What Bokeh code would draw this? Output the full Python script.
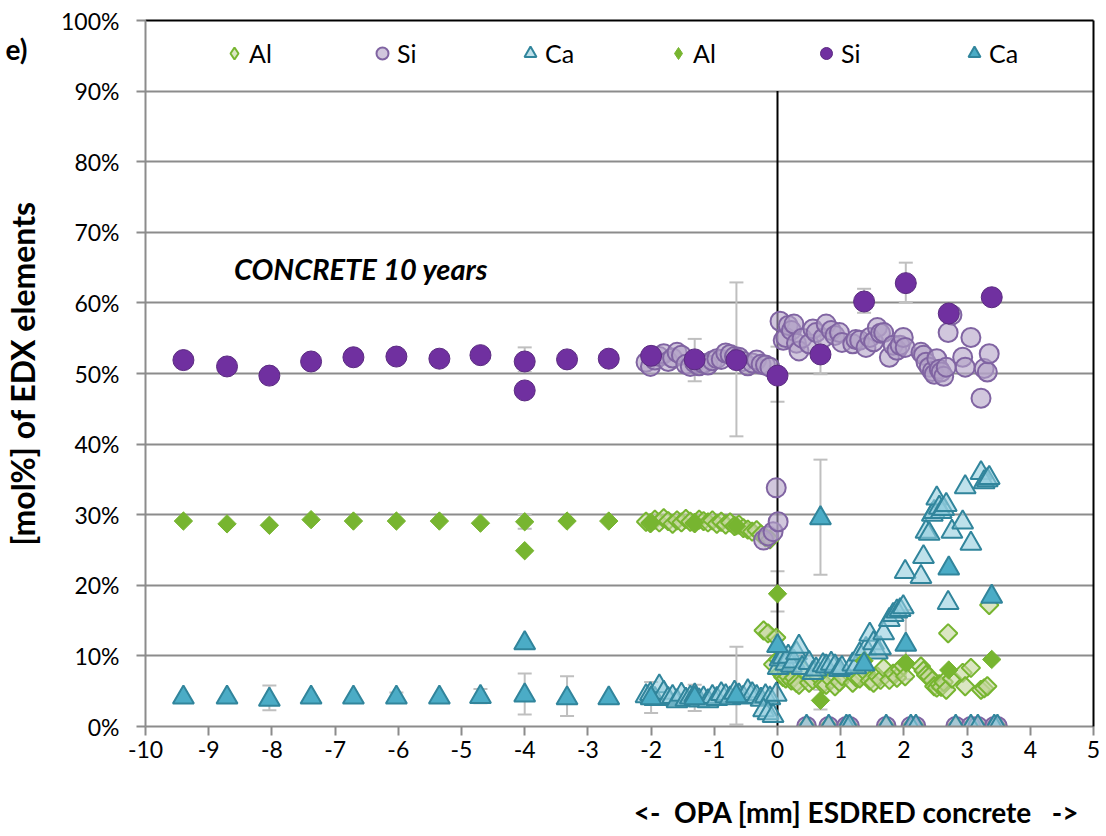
import math
from bokeh.plotting import figure
from bokeh.models import (ColumnDataSource, LinearAxis, FixedTicker, Legend, LegendItem,
                          Label, Whisker, TeeHead, PrintfTickFormatter)
from bokeh.embed import file_html
from bokeh.resources import INLINE

# ---------------- data ----------------
# mean values (filled markers)
mean_x = [-9.40, -8.71, -8.04, -7.38, -6.71, -6.03, -5.35, -4.70, -4.00, -4.00, -3.33,
          -2.67, -2.00, -1.31, -0.65, 0.00, 0.68, 1.37, 2.03, 2.71, 3.39]
mean_al = [29.1, 28.7, 28.5, 29.3, 29.1, 29.1, 29.1, 28.8, 29.0, 24.9, 29.1,
           29.1, 28.9, 28.9, 28.4, 18.8, 3.7, 9.3, 9.0, 8.0, 9.5]
mean_si = [51.9, 51.0, 49.7, 51.7, 52.3, 52.4, 52.1, 52.6, 51.7, 47.6, 52.0,
           52.1, 52.5, 52.0, 51.9, 49.7, 52.7, 60.2, 62.8, 58.5, 60.8]
mean_ca = [4.1, 4.1, 3.8, 4.1, 4.1, 4.1, 4.1, 4.2, 4.4, 11.8, 4.0,
           4.0, 4.0, 4.0, 4.3, 11.4, 29.5, 8.8, 11.6, 22.4, 18.4]

# error bars of the means
si_err_x = [-4.00, -2.00, -1.31, -0.65, 0.00, 0.68, 1.37, 2.03, 2.71]
si_err_lo = [50.2, 51.4, 48.9, 41.1, 46.0, 49.9, 58.6, 60.1, 57.6]
si_err_hi = [53.7, 53.6, 54.9, 62.9, 53.8, 55.3, 62.0, 65.7, 59.4]
al_err_x = [-4.00, 0.00, 0.68]
al_err_lo = [28.0, 16.3, 2.4]
al_err_hi = [30.0, 22.0, 5.2]
ca_err_x = [-8.04, -6.03, -4.70, -4.00, -3.33, -2.00, -1.31, -0.65, 0.68, 2.03]
ca_err_lo = [2.3, 3.4, 3.3, 1.7, 1.5, 1.9, 2.2, 0.3, 21.5, 6.7]
ca_err_hi = [5.8, 4.8, 5.3, 7.5, 7.1, 6.3, 5.9, 11.3, 37.8, 16.5]

# line-scan points (open markers): OPA side
opa_x = [-2.08, -2.01, -1.94, -1.87, -1.80, -1.73, -1.66, -1.59, -1.52, -1.45, -1.38, -1.31,
         -1.24, -1.17, -1.10, -1.03, -0.96, -0.89, -0.82, -0.75, -0.68, -0.61, -0.54, -0.47,
         -0.40, -0.33, -0.26, -0.19, -0.12]
opa_al = [29.0, 28.8, 29.3, 28.9, 29.5, 29.1, 28.7, 29.2, 28.9, 29.4, 29.0, 28.8,
          29.3, 29.1, 28.9, 29.2, 28.7, 29.0, 28.6, 28.9, 28.4, 28.6, 28.1, 27.9,
          27.6, 27.8, 27.2, 26.8, 26.5]
opa_si = [51.6, 51.0, 51.9, 52.4, 52.8, 51.7, 52.2, 53.0, 52.6, 51.3, 51.0, 51.5,
          51.1, 51.4, 51.2, 51.8, 52.1, 52.0, 52.9, 52.7, 52.4, 52.3, 51.7, 51.1,
          51.5, 51.9, 51.3, 51.2, 50.9]
opa_ca = [4.3, 4.6, 3.9, 5.7, 4.8, 3.9, 4.2, 3.6, 4.5, 3.8, 4.1, 4.4,
          3.7, 4.0, 3.6, 4.2, 3.9, 4.6, 4.3, 4.0, 4.8, 4.4, 4.1, 5.0,
          4.6, 4.2, 3.8, 4.3, 4.0]

# interface
int_x = [-0.22, -0.15, -0.07, -0.02, 0.01]
int_al = [13.6, 13.2, 8.8, 12.6, 9.5]
int_si = [26.4, 27.0, 27.6, 33.8, 29.0]
int_ca = [2.3, 1.9, 1.5, 4.5, 8.3]

# concrete side
con_x = [0.04, 0.09, 0.13, 0.17, 0.22, 0.26, 0.30, 0.34, 0.39, 0.50, 0.56, 0.61, 0.72, 0.77,
         0.85, 0.91, 0.98, 1.02, 1.19, 1.24, 1.30, 1.40, 1.46, 1.52, 1.58, 1.63, 1.68, 1.77,
         1.83, 1.89, 1.94, 1.99, 2.02, 2.27, 2.31, 2.35, 2.40, 2.45, 2.48, 2.52, 2.56, 2.59,
         2.63, 2.67, 2.70, 2.76, 2.93, 2.97, 3.06, 3.22, 3.27, 3.32, 3.35]
con_si = [57.4, 54.7, 55.1, 56.8, 56.1, 57.0, 54.3, 53.2, 55.0, 54.2, 56.3, 55.8, 55.0, 57.0,
          56.1, 55.4, 55.8, 54.4, 54.2, 54.8, 54.7, 53.7, 55.1, 54.5, 56.5, 55.7, 55.8, 52.3,
          54.0, 53.3, 54.0, 55.1, 53.7, 53.0, 52.6, 51.6, 50.9, 50.3, 49.9, 52.1, 50.6, 50.2,
          49.6, 50.9, 55.8, 58.3, 52.3, 50.9, 55.1, 46.5, 50.7, 50.2, 52.8]
con_al = [7.6, 7.0, 6.8, 7.1, 6.5, 6.9, 6.2, 5.9, 8.1, 6.2, 6.6, 7.4, 6.0, 5.9,
          6.6, 5.7, 6.3, 7.1, 6.2, 7.0, 6.8, 7.6, 6.5, 6.2, 7.1, 6.6, 8.3, 6.6,
          7.5, 6.9, 8.1, 8.6, 7.1, 8.5, 7.9, 7.3, 7.1, 6.5, 5.7, 5.5, 6.0, 5.6,
          6.3, 5.2, 13.2, 6.8, 7.6, 5.7, 8.3, 5.2, 5.4, 5.7, 17.2]
con_ca = [9.5, 9.8, 8.9, 9.9, 8.6, 9.2, 10.4, 11.3, 8.3, 9.0, 7.6, 8.1, 8.7, 8.5,
          8.9, 8.5, 8.0, 8.3, 8.8, 8.4, 10.2, 11.0, 13.0, 11.8, 10.5, 11.1, 13.2, 15.1,
          15.8, 16.3, 16.5, 16.9, 21.9, 21.2, 24.0, 27.6, 27.3, 30.0, 30.4, 32.3, 31.0, 30.4,
          30.8, 31.4, 17.5, 27.6, 28.9, 33.9, 25.9, 35.9, 34.6, 34.9, 35.2]

# points with no signal (0 %)
zero_x = [0.46, 0.81, 1.09, 1.14, 1.72, 2.11, 2.19, 2.82, 3.06, 3.17, 3.43, 3.48]
zero_v = [0.0, 0.0, 0.0, 0.0, 0.0, 0.0, 0.0, 0.0, 0.0, 0.0, 0.0, 0.0]

x_ticks = [-10, -9, -8, -7, -6, -5, -4, -3, -2, -1, 0, 1, 2, 3, 4, 5]
y_ticks = [0, 10, 20, 30, 40, 50, 60, 70, 80, 90, 100]
interface_x = 0
interface_top = 90

panel_tag = "e)"
panel_tag_y = 96
y_title = "[mol%] of EDX elements"
x_title = "<-\u00a0 OPA [mm] ESDRED concrete \u00a0\u00a0->"
x_title_center = 1.25
note_text = "CONCRETE 10 years"
note_x, note_y = -8.60, 64.9

scan_x = opa_x + int_x + con_x + zero_x
scan_al = opa_al + int_al + con_al + zero_v
scan_si = opa_si + int_si + con_si + zero_v
scan_ca = opa_ca + int_ca + con_ca + zero_v

# ---------------- styles ----------------
FONT = "Lato"
GRID = "#8c8c8c"
ERR = "#bfbfbf"
AL_DARK = "#77b530"
AL_OPEN_FILL = "#c3d69b"
SI_DARK = "#7030a0"
SI_LINE = "#8064a2"
SI_OPEN_FILL = "#b3a2c7"
CA_FILL = "#4bacc6"
CA_LINE = "#31859c"
CA_OPEN_FILL = "#93cddd"

p = figure(width=1106, height=836, x_range=(-10, 5), y_range=(0, 100),
           output_backend="svg", toolbar_location=None,
           min_border_left=143, min_border_right=13, min_border_top=20, min_border_bottom=110)
p.background_fill_color = "white"
p.border_fill_color = "white"
p.outline_line_color = None

# axes
p.xaxis.ticker = FixedTicker(ticks=x_ticks)
p.xaxis.formatter = PrintfTickFormatter(format="%d")
p.yaxis.ticker = FixedTicker(ticks=y_ticks)
p.yaxis.formatter = PrintfTickFormatter(format="%d%%")
for ax in (p.xaxis[0], p.yaxis[0]):
    ax.axis_line_color = GRID
    ax.axis_line_width = 2
    ax.major_tick_line_color = GRID
    ax.major_tick_line_width = 2
    ax.major_tick_in = 0
    ax.major_tick_out = 9
    ax.minor_tick_line_color = None
    ax.major_label_text_font = FONT
    ax.major_label_text_font_size = "23px"
    ax.major_label_text_color = "black"
p.yaxis.major_label_standoff = 17
p.xaxis.major_label_standoff = 5
p.yaxis.axis_label = y_title
p.yaxis.axis_label_text_font = FONT
p.yaxis.axis_label_text_font_style = "bold"
p.yaxis.axis_label_text_font_size = "32px"
p.yaxis.axis_label_text_color = "black"
p.yaxis.axis_label_standoff = 16

for side in ("right", "above"):
    ax = LinearAxis(ticker=FixedTicker(ticks=[]), axis_line_color="black", axis_line_width=2,
                    major_tick_line_color=None, minor_tick_line_color=None,
                    major_label_text_font_size="0px", major_label_standoff=0,
                    major_tick_out=0, major_tick_in=0)
    p.add_layout(ax, side)

# panel tag "e)" as an outer label-only axis on the left
tag_axis = LinearAxis(ticker=FixedTicker(ticks=[panel_tag_y]),
                      major_label_overrides={panel_tag_y: panel_tag},
                      axis_line_color=None, major_tick_line_color=None, minor_tick_line_color=None,
                      major_tick_out=0, major_tick_in=0, major_label_standoff=-27,
                      major_label_text_font=FONT, major_label_text_font_style="bold",
                      major_label_text_font_size="28px", major_label_text_color="black")
p.add_layout(tag_axis, "left")

# x title as an outer label-only axis below
xt_axis = LinearAxis(ticker=FixedTicker(ticks=[x_title_center]),
                     major_label_overrides={x_title_center: x_title},
                     axis_line_color=None, major_tick_line_color=None, minor_tick_line_color=None,
                     major_tick_out=0, major_tick_in=0, major_label_standoff=34,
                     major_label_text_font=FONT, major_label_text_font_style="bold",
                     major_label_text_font_size="28px", major_label_text_color="black")
p.add_layout(xt_axis, "below")

p.xgrid.visible = False
p.ygrid.ticker = FixedTicker(ticks=y_ticks[1:-1])
p.ygrid.grid_line_color = GRID
p.ygrid.grid_line_width = 2

# error bars
def add_err(xs, lo, hi):
    src = ColumnDataSource(dict(x=xs, lo=lo, hi=hi))
    w = Whisker(source=src, base="x", lower="lo", upper="hi", line_color=ERR, line_width=2,
                upper_head=TeeHead(size=14, line_color=ERR, line_width=2),
                lower_head=TeeHead(size=14, line_color=ERR, line_width=2))
    p.add_layout(w)

add_err(si_err_x, si_err_lo, si_err_hi)
add_err(al_err_x, al_err_lo, al_err_hi)
add_err(ca_err_x, ca_err_lo, ca_err_hi)

# interface line
p.segment(x0=[interface_x], y0=[0], x1=[interface_x], y1=[interface_top],
          line_color="black", line_width=2)

# open (line-scan) series
r_al_o = p.scatter(scan_x, scan_al, marker="square", angle=math.pi / 4, size=13,
                   fill_color=AL_OPEN_FILL, fill_alpha=0.6, line_color=AL_DARK, line_width=2)
r_si_o = p.scatter(scan_x, scan_si, marker="circle", size=19,
                   fill_color=SI_OPEN_FILL, fill_alpha=0.6, line_color=SI_LINE, line_width=2)
r_ca_o = p.scatter(scan_x, scan_ca, marker="triangle", size=21,
                   fill_color=CA_OPEN_FILL, fill_alpha=0.6, line_color=CA_LINE, line_width=2)

# filled (mean) series
r_al_f = p.scatter(mean_x, mean_al, marker="square", angle=math.pi / 4, size=13,
                   fill_color=AL_DARK, line_color=AL_DARK, line_width=1)
r_si_f = p.scatter(mean_x, mean_si, marker="circle", size=21,
                   fill_color=SI_DARK, line_color="#5a2a80", line_width=1)
r_ca_f = p.scatter(mean_x, mean_ca, marker="triangle", size=21,
                   fill_color=CA_FILL, line_color=CA_LINE, line_width=2)

# legend-only diamond glyphs (no data drawn)
nan = float("nan")
lg_al_o = p.scatter([nan], [nan], marker="diamond", fill_color=AL_OPEN_FILL, fill_alpha=0.6,
                    line_color=AL_DARK, line_width=2)
lg_al_f = p.scatter([nan], [nan], marker="diamond", fill_color=AL_DARK, line_color=AL_DARK,
                    line_width=1)

legend = Legend(items=[LegendItem(label="Al", renderers=[lg_al_o]),
                       LegendItem(label="Si", renderers=[r_si_o]),
                       LegendItem(label="Ca", renderers=[r_ca_o]),
                       LegendItem(label="Al", renderers=[lg_al_f]),
                       LegendItem(label="Si", renderers=[r_si_f]),
                       LegendItem(label="Ca", renderers=[r_ca_f])],
                orientation="horizontal", location="top_center",
                glyph_width=30, glyph_height=30, label_standoff=0, label_width=30,
                spacing=88, padding=5, margin=18,
                label_text_font=FONT, label_text_font_size="25px", label_text_color="black",
                background_fill_alpha=0, border_line_color=None)
p.add_layout(legend)

p.add_layout(Label(x=note_x, y=note_y, text=note_text, text_font=FONT,
                   text_font_style="bold italic", text_font_size="29px", text_color="black",
                   text_align="left", text_baseline="middle"))

open("out.html", "w").write(file_html(p, INLINE))
